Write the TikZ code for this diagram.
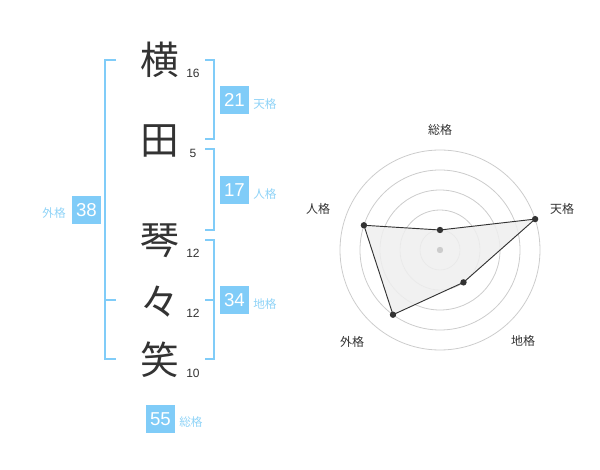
\documentclass[tikz,border=0pt]{standalone}
\usepackage{fontspec}
\setmainfont{Liberation Sans}
\newfontfamily\jp{Noto Sans CJK JP}
\definecolor{kakublue}{HTML}{80CCF8}
\definecolor{kakutext}{HTML}{8FD3F7}
\definecolor{inkgray}{HTML}{333333}
\definecolor{ringgray}{HTML}{CCCCCC}
\definecolor{areagray}{HTML}{EFEFEF}
\begin{document}
\begin{tikzpicture}[x=0.75pt,y=-0.75pt,
    moji/.style={font=\jp\fontsize{29}{29}\selectfont,text=inkgray,inner sep=0},
    kakusu/.style={font=\fontsize{9}{9}\selectfont,text=inkgray,inner sep=0},
    kakubox/.style={fill=kakublue,text=white,font=\fontsize{14}{14}\selectfont,
        minimum width=21.75pt,minimum height=21pt,inner sep=0},
    kakuname/.style={font=\jp\fontsize{8.75}{8.75}\selectfont,text=kakutext,inner sep=0},
    waku/.style={draw=kakublue,line width=1.2pt},
    ring/.style={draw=ringgray,line width=0.6pt},
    jiku/.style={font=\jp\fontsize{9}{9}\selectfont,text=inkgray,inner sep=0}]
    \useasboundingbox (0,0) rectangle (600,470);
    \node[moji] (yoko) at (160,60) {横};
    \node[moji] (ta) at (160,141) {田};
    \node[moji] (koto) at (160,241) {琴};
    \node[moji] (noma) at (160,302) {々};
    \node[moji] (emi) at (160,360) {笑};
    \node[kakusu] (s1) at (193,73) {16};
    \node[kakusu] (s2) at (193,153) {5};
    \node[kakusu] (s3) at (193,253) {12};
    \node[kakusu] (s4) at (193,313) {12};
    \node[kakusu] (s5) at (193,373) {10};
    \draw[waku] (205,60) -- (214,60) -- (214,139) -- (205,139);
    \draw[waku] (205,149) -- (214,149) -- (214,230) -- (205,230);
    \draw[waku] (205,240) -- (214,240) -- (214,359) -- (205,359);
    \draw[waku] (205,300) -- (214,300);
    \draw[waku] (116,60) -- (105,60) -- (105,359) -- (116,359);
    \draw[waku] (105,300) -- (116,300);
    \node[kakubox] (ten) at (234.5,100) {21};
    \node[kakuname,anchor=west] (tenname) at (253,104) {天格};
    \node[kakubox] (jin) at (234.5,190) {17};
    \node[kakuname,anchor=west] (jinname) at (253,194) {人格};
    \node[kakubox] (chi) at (234.5,300) {34};
    \node[kakuname,anchor=west] (chiname) at (253,304) {地格};
    \node[kakubox] (gai) at (86.5,210) {38};
    \node[kakuname,anchor=east] (gainame) at (66,213) {外格};
    \node[kakubox] (sou) at (160.5,419) {55};
    \node[kakuname,anchor=west] (souname) at (179,422) {総格};
    \begin{scope}[shift={(440,250)},yscale=-1]
        \foreach \r in {20,40,60,80,100}
            \draw[ring] (0,0) circle (\r);
        \coordinate (psou) at (90:20);
        \coordinate (pten) at (18:100);
        \coordinate (pchi) at (-54:40);
        \coordinate (pgai) at (-126:80);
        \coordinate (pjin) at (162:80);
        \filldraw[fill=areagray,fill opacity=0.85,draw=inkgray,line width=0.7pt]
            (psou) -- (pten) -- (pchi) -- (pgai) -- (pjin) -- cycle;
        \fill[ringgray] (0,0) circle (3.2);
        \foreach \p in {psou,pten,pchi,pgai,pjin}
            \fill[inkgray] (\p) circle (3.2);
    \end{scope}
    \node[jiku] (lsou) at (440,130) {総格};
    \node[jiku] (lten) at (562,209) {天格};
    \node[jiku] (lchi) at (523,341) {地格};
    \node[jiku] (lgai) at (352,342) {外格};
    \node[jiku] (ljin) at (318,209) {人格};
\end{tikzpicture}
\end{document}
